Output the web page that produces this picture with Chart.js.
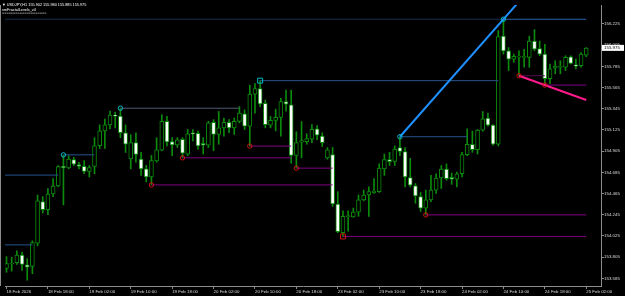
<!DOCTYPE html>
<html>
<head>
<meta charset="utf-8">
<script src="https://cdn.jsdelivr.net/npm/chart.js@4"></script>
<style>
html, body { margin: 0; padding: 0; background: #000; }
#wrap { position: relative; width: 625px; height: 296px; }
</style>
</head>
<body>
<div id="wrap"><canvas id="chart-usdjpy" width="625" height="296"></canvas></div>
<script>
// USDJPY H1 bars, oldest first
const opens = [
  153.688, 153.734, 153.747, 153.828, 153.726, 153.709, 153.951, 154.382, 154.297, 154.461,
  154.545, 154.749, 154.732, 154.818, 154.767, 154.749, 154.695, 154.746, 154.963, 155.116,
  155.178, 155.280, 155.269, 155.096, 154.824, 154.994, 154.824, 154.722, 154.637, 154.803,
  154.915, 155.215, 155.004, 154.971, 155.028, 154.875, 155.089, 155.089, 154.987, 154.967,
  155.205, 155.079, 155.147, 155.205, 155.147, 155.215, 155.293, 155.164, 155.497, 155.555,
  155.402, 155.175, 155.224, 155.256, 155.419, 155.385, 154.861, 154.999, 155.004, 155.030,
  155.137, 155.062, 154.836, 154.869, 154.355, 154.059, 154.226, 154.222, 154.273, 154.399,
  154.450, 154.474, 154.485, 154.722, 154.818, 154.800, 154.943, 154.902, 154.630, 154.545,
  154.433, 154.314, 154.399, 154.501, 154.627, 154.719, 154.634, 154.614, 154.671, 154.869,
  154.977, 154.920, 155.124, 155.249, 155.175, 154.977, 156.099, 155.946, 155.861, 155.881,
  155.878, 155.878, 156.048, 155.970, 155.912, 155.657, 155.766, 155.776, 155.776, 155.884,
  155.800, 155.793, 155.902
];
const highs = [
  153.811, 153.804, 153.872, 153.855, 153.790, 153.974, 154.450, 154.433, 154.518, 154.620,
  154.756, 154.867, 154.858, 154.841, 154.790, 154.807, 154.756, 155.045, 155.178, 155.239,
  155.320, 155.310, 155.351, 155.178, 155.076, 155.096, 154.892, 154.759, 154.861, 155.045,
  155.283, 155.266, 155.045, 155.045, 155.045, 155.130, 155.130, 155.113, 155.045, 155.215,
  155.232, 155.317, 155.249, 155.232, 155.249, 155.368, 155.334, 155.589, 155.606, 155.637,
  155.436, 155.266, 155.341, 155.453, 155.538, 155.538, 155.106, 155.213, 155.086, 155.181,
  155.170, 155.096, 154.943, 154.943, 154.485, 154.287, 154.287, 154.314, 154.450, 154.501,
  154.535, 154.620, 154.773, 154.875, 154.893, 154.960, 155.055, 154.943, 154.831, 154.569,
  154.477, 154.501, 154.654, 154.671, 154.756, 154.773, 154.678, 154.689, 154.893, 155.137,
  155.113, 155.130, 155.317, 155.300, 155.181, 156.157, 156.274, 155.980, 155.912, 155.946,
  155.963, 156.099, 156.167, 156.048, 156.014, 155.810, 155.844, 155.844, 155.895, 155.895,
  155.861, 155.929, 155.980
];
const lows = [
  153.648, 153.661, 153.729, 153.668, 153.566, 153.634, 153.923, 154.263, 154.246, 154.433,
  154.535, 154.348, 154.722, 154.756, 154.722, 154.671, 154.637, 154.671, 154.933, 154.933,
  155.137, 155.147, 155.045, 154.892, 154.722, 154.790, 154.654, 154.586, 154.555, 154.790,
  154.909, 154.960, 154.858, 154.943, 154.836, 154.858, 155.011, 154.926, 154.875, 154.943,
  154.909, 154.977, 155.062, 155.096, 155.079, 155.198, 155.130, 154.958, 155.300, 155.368,
  155.147, 155.147, 155.116, 155.062, 155.320, 154.780, 154.729, 154.836, 154.977, 154.994,
  155.025, 154.953, 154.821, 154.331, 154.059, 154.020, 154.076, 154.219, 154.229, 154.389,
  154.229, 154.467, 154.477, 154.654, 154.756, 154.756, 154.858, 154.535, 154.535, 154.365,
  154.280, 154.244, 154.382, 154.467, 154.518, 154.603, 154.561, 154.535, 154.637, 154.858,
  154.893, 154.875, 155.113, 155.164, 154.967, 154.960, 155.912, 155.742, 155.827, 155.688,
  155.776, 155.776, 155.946, 155.895, 155.591, 155.606, 155.708, 155.708, 155.742, 155.810,
  155.759, 155.776, 155.885
];
const closes = [
  153.739, 153.745, 153.828, 153.729, 153.702, 153.957, 154.389, 154.297, 154.461, 154.542,
  154.746, 154.732, 154.824, 154.770, 154.746, 154.695, 154.736, 154.960, 155.116, 155.178,
  155.280, 155.269, 155.096, 154.977, 154.994, 154.872, 154.722, 154.637, 154.807, 154.920,
  155.215, 155.001, 154.971, 155.022, 154.885, 155.086, 155.086, 154.960, 154.967, 155.198,
  155.079, 155.147, 155.205, 155.147, 155.215, 155.300, 155.164, 155.497, 155.555, 155.395,
  155.181, 155.226, 155.256, 155.419, 155.392, 154.861, 154.995, 155.014, 155.035, 155.132,
  155.071, 154.994, 154.920, 154.359, 154.069, 154.229, 154.229, 154.273, 154.399, 154.450,
  154.485, 154.491, 154.729, 154.818, 154.797, 154.926, 154.902, 154.637, 154.552, 154.440,
  154.314, 154.399, 154.501, 154.627, 154.719, 154.620, 154.614, 154.671, 154.869, 154.977,
  154.920, 155.124, 155.242, 155.175, 154.977, 156.093, 155.946, 155.861, 155.889, 155.889,
  155.889, 156.048, 155.963, 155.912, 155.657, 155.759, 155.787, 155.783, 155.878, 155.817,
  155.787, 155.912, 155.975
];

const xTickLabels = [
  '18 Feb 2026', '18 Feb 18:00', '19 Feb 02:00', '19 Feb 10:00', '19 Feb 18:00',
  '20 Feb 02:00', '20 Feb 10:00', '20 Feb 18:00', '23 Feb 02:00', '23 Feb 10:00',
  '23 Feb 18:00', '24 Feb 02:00', '24 Feb 10:00', '24 Feb 18:00', '25 Feb 02:00'
];
const barsPerLabel = 8;
const yTicks = [153.585, 153.805, 154.025, 154.245, 154.465, 154.685, 154.905,
                155.125, 155.345, 155.565, 155.785, 156.005, 156.225];

// fractal levels: bar of the fractal and bar where price broke it
const upFractals = [11, 22, 49, 76, 96];
const upBrokenAt = [17, 45, 95, 89, 112];
const dnFractals = [28, 34, 47, 56, 65, 81, 99, 104];
const dnBrokenAt = [63, 55, 55, 63, 112, 112, 104, 112];
const oldUpLevels = [153.933, 154.657];
const oldUpBrokenAt = [5, 10];
const squareFractals = [49, 65];

const symbolName = 'USDJPY,H1';
const indicatorName = 'smFractalLevels_v4';

// ---- styling ----
const X_MIN = -0.29, X_MAX = 114.85;
const Y_MIN = 153.506, Y_MAX = 156.422;
const GREEN = '#0b8a0b';
const AXIS = '#8c8c8c';
const LABEL = '#dcdcdc';
const UP_LEVEL = '#26548f';
const DN_LEVEL = '#800080';

const idx = opens.map((_, i) => i);
const wickData = idx.map(i => ({ x: i, y: [lows[i], highs[i]] }));
const bodyData = idx.map(i => ({ x: i, y: [Math.min(opens[i], closes[i]), Math.max(opens[i], closes[i])] }));
const bodyFill = idx.map(i => closes[i] >= opens[i] ? '#000000' : '#ffffff');

function levelLine(from, to, price, color) {
    return {
        type: 'line',
        data: [{ x: from, y: price }, { x: to, y: price }],
        borderColor: color,
        borderWidth: 1,
        pointRadius: 0,
        order: 2
    };
}

function rayLine(i1, p1, i2, p2, toIdx, color) {
    const slope = (p2 - p1) / (i2 - i1);
    return {
        type: 'line',
        data: [{ x: i1, y: p1 }, { x: toIdx, y: p1 + slope * (toIdx - i1) }],
        borderColor: color,
        borderWidth: 2,
        pointRadius: 0,
        order: 1
    };
}

function markers(list, prices, color) {
    return {
        type: 'line',
        showLine: false,
        data: list.map(i => ({ x: i, y: prices[i] })),
        pointStyle: list.map(i => squareFractals.includes(i) ? 'rect' : 'circle'),
        pointRadius: list.map(i => squareFractals.includes(i) ? 3.5 : 2.2),
        pointBorderColor: color,
        pointBackgroundColor: 'rgba(0,0,0,0)',
        pointBorderWidth: 1,
        order: 0
    };
}

const datasets = [
    {
        type: 'bar',
        data: wickData,
        backgroundColor: GREEN,
        borderWidth: 0,
        barThickness: 1,
        grouped: false,
        order: 5
    },
    {
        type: 'bar',
        data: bodyData,
        backgroundColor: bodyFill,
        borderColor: GREEN,
        borderWidth: 1,
        borderSkipped: false,
        barThickness: 4,
        minBarLength: 1,
        grouped: false,
        order: 4
    }
];

// dim extension of the latest top level across the chart
datasets.push(levelLine(X_MIN, upFractals[4], highs[upFractals[4]], '#1b2f4f'));
oldUpLevels.forEach((p, k) => datasets.push(levelLine(X_MIN, oldUpBrokenAt[k], p, UP_LEVEL)));
upFractals.forEach((f, k) => {
    const col = f === 22 ? '#4d5b70' : (f === 96 ? '#2c60aa' : UP_LEVEL);
    datasets.push(levelLine(f, upBrokenAt[k], highs[f], col));
});
dnFractals.forEach((f, k) => {
    const col = f === 99 ? '#551055' : DN_LEVEL;
    datasets.push(levelLine(f, dnBrokenAt[k], lows[f], col));
});

// trend lines through the last two fractals of each side
const u1 = upFractals[3], u2 = upFractals[4];
datasets.push(rayLine(u1, highs[u1], u2, highs[u2], 112, '#1e90ff'));
const d1 = dnFractals[6], d2 = dnFractals[7];
datasets.push(rayLine(d1, lows[d1], d2, lows[d2], 112, '#ff1a8c'));

datasets.push(markers(upFractals, highs, '#00b8c8'));
datasets.push(markers(dnFractals, lows, '#d01010'));

const overlay = {
    id: 'mtOverlay',
    afterDraw(chart) {
        const { ctx, chartArea, scales } = chart;
        const last = closes.length - 1;
        ctx.save();
        // left frame
        ctx.strokeStyle = AXIS;
        ctx.lineWidth = 1;
        ctx.beginPath();
        ctx.moveTo(0.5, chartArea.top);
        ctx.lineTo(0.5, chartArea.bottom);
        ctx.stroke();

        // header
        ctx.textBaseline = 'middle';
        ctx.textAlign = 'left';
        ctx.fillStyle = '#ffffff';
        ctx.font = '3.8px "Liberation Sans"';
        ctx.fillText('\u25BC ' + symbolName + ' ' + opens[last].toFixed(3) + ' ' + highs[last].toFixed(3) + ' ' +
            lows[last].toFixed(3) + ' ' + closes[last].toFixed(3), 2, 4.8);
        ctx.fillText(indicatorName, 2, 9.6);
        ctx.fillStyle = '#b0b0b0';
        ctx.fillText('====================', 2, 13);

        // current price box
        const y = scales.y.getPixelForValue(closes[last]);
        ctx.fillStyle = '#ffffff';
        ctx.fillRect(chartArea.right + 1, y - 3.2, 22, 6);
        ctx.fillStyle = '#000000';
        ctx.font = '4.4px "Liberation Sans"';
        ctx.fillText(closes[last].toFixed(3), chartArea.right + 3, y);
        ctx.restore();
    }
};

new Chart(document.getElementById('chart-usdjpy'), {
    type: 'bar',
    data: { datasets: datasets },
    options: {
        responsive: false,
        animation: false,
        events: [],
        layout: { padding: 0 },
        plugins: {
            legend: { display: false },
            tooltip: { enabled: false }
        },
        scales: {
            x: {
                type: 'linear',
                min: X_MIN,
                max: X_MAX,
                offset: false,
                grid: { offset: false, drawOnChartArea: false, drawTicks: true, tickLength: 3, color: AXIS },
                border: { display: true, color: AXIS },
                ticks: {
                    autoSkip: false,
                    maxRotation: 0,
                    align: 'start',
                    padding: 0,
                    color: LABEL,
                    font: { family: 'Liberation Sans', size: 4.4 },
                    callback: (v) => xTickLabels[Math.round(v / barsPerLabel)] || ''
                },
                afterBuildTicks: (s) => { s.ticks = xTickLabels.map((_, k) => ({ value: k * barsPerLabel })); },
                afterFit: (s) => { s.height = 10; s.paddingLeft = 0; s.paddingRight = 0; }
            },
            y: {
                position: 'right',
                min: Y_MIN,
                max: Y_MAX,
                grid: { drawOnChartArea: false, drawTicks: true, tickLength: 3, color: AXIS },
                border: { display: true, color: AXIS },
                ticks: {
                    autoSkip: false,
                    padding: 0,
                    color: LABEL,
                    font: { family: 'Liberation Sans', size: 4.4, lineHeight: 0.01 },
                    callback: (v) => v.toFixed(3)
                },
                afterBuildTicks: (s) => { s.ticks = yTicks.map(v => ({ value: v })); },
                afterFit: (s) => { s.width = 24; s.paddingTop = 0; s.paddingBottom = 0; }
            }
        }
    },
    plugins: [overlay]
});
</script>
</body>
</html>
